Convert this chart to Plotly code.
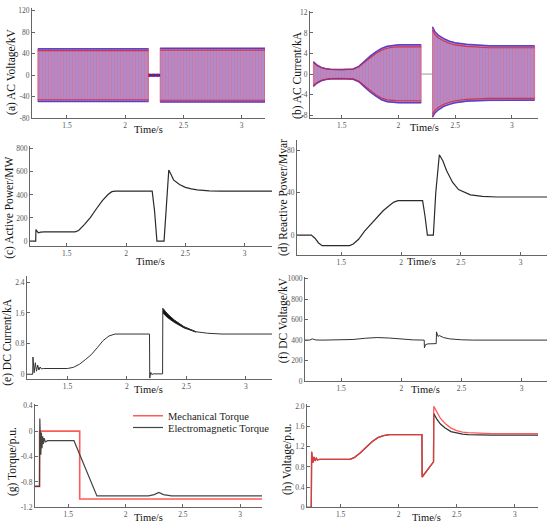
import plotly.graph_objects as go

W, H = 550, 530

# ---- values ----
# (a) AC voltage envelope, kV
a_t_pre = [1.25, 2.2]
a_hi_pre = [49, 49]
a_lo_pre = [-49, -49]
a_t_flt = [2.2, 2.3]
a_flt = [0, 0]
a_t_post = [2.3, 3.2]
a_hi_post = [50, 50]
a_lo_post = [-50, -50]

# (b) AC current envelope, kA
b_t_pre = [1.25, 1.28, 1.32, 1.36, 1.4, 1.5, 1.6, 1.65, 1.7, 1.75, 1.8, 1.85, 1.9, 1.95, 2.0, 2.2]
b_hi_pre = [2.4, 1.8, 1.3, 1.05, 0.95, 0.9, 1.0, 1.5, 2.5, 3.5, 4.3, 5.0, 5.4, 5.6, 5.7, 5.7]
b_lo_pre = [-2.4, -1.8, -1.3, -1.05, -0.95, -0.9, -1.0, -1.5, -2.5, -3.5, -4.3, -5.0, -5.4, -5.5, -5.6, -5.6]
b_t_flt = [2.2, 2.3]
b_flt = [0, 0]
b_t_post = [2.3, 2.32, 2.35, 2.4, 2.45, 2.5, 2.6, 2.7, 2.8, 3.0, 3.2]
b_hi_post = [9.2, 8.3, 7.6, 6.9, 6.4, 6.1, 5.8, 5.6, 5.5, 5.5, 5.5]
b_lo_post = [-8.4, -7.6, -7.0, -6.3, -5.9, -5.6, -5.3, -5.2, -5.1, -5.1, -5.1]

# (c) active power, MW
c_t = [1.19, 1.238, 1.24, 1.25, 1.26, 1.28, 1.31, 1.57, 1.6, 1.65, 1.7, 1.75, 1.8, 1.85, 1.88, 1.91,
       2.22, 2.24, 2.26, 2.32, 2.34, 2.36, 2.38, 2.4, 2.45, 2.5, 2.55, 2.6, 2.7, 2.8, 3.23]
c_p = [0, 0, 100, 88, 72, 78, 80, 80, 92, 145, 205, 280, 350, 405, 428, 432,
       432, 260, 0, 0, 330, 615, 575, 530, 490, 465, 452, 443, 435, 432, 432]

# (d) reactive power, Mvar
d_t = [1.13, 1.25, 1.28, 1.31, 1.34, 1.57, 1.6, 1.645, 1.695, 1.75, 1.8, 1.85, 1.9, 1.94, 1.975,
       2.18, 2.2, 2.22, 2.27, 2.29, 2.32, 2.35, 2.38, 2.43, 2.48, 2.58, 2.68, 2.8, 3.22]
d_q = [0, 0, -3, -7.5, -10, -10, -8.5, -4, 3.7, 10.5, 17, 23, 27.7, 31.2, 32.5,
       32.5, 18, 0, 0, 40, 76, 70, 61, 50, 43, 38, 36.5, 36, 36]

# (e) DC current, kA
e_t = [1.16, 1.208, 1.21, 1.22, 1.23, 1.24, 1.25, 1.26, 1.27, 1.28, 1.3, 1.5, 1.55, 1.6, 1.65, 1.7,
       1.75, 1.8, 1.85, 1.9, 2.19, 2.192, 2.2, 2.21, 2.22, 2.3, 2.302, 2.34, 2.4, 2.48, 2.58, 2.68, 2.8, 3.22]
e_i = [0, 0, 0.45, 0.04, 0.3, 0.08, 0.24, 0.11, 0.19, 0.14, 0.15, 0.15, 0.18, 0.26, 0.38, 0.51,
       0.69, 0.88, 1.0, 1.05, 1.05, -0.1, 0.05, -0.01, 0.01, 0.01, 1.72, 1.58, 1.41, 1.24, 1.11, 1.07, 1.05, 1.05]
e_rip_t = [2.302, 2.34, 2.4, 2.48, 2.58]
e_rip_hi = [1.72, 1.58, 1.41, 1.24, 1.11]
e_rip_lo = [1.6, 1.48, 1.35, 1.21, 1.1]

# (f) DC voltage, kV
f_t = [1.2, 1.24, 1.26, 1.29, 1.35, 1.5, 1.6, 1.7, 1.8, 1.9, 2.0, 2.1, 2.19, 2.192, 2.2, 2.22,
       2.29, 2.292, 2.305, 2.315, 2.35, 2.4, 2.5, 2.6, 3.21]
f_v = [400, 400, 412, 401, 400, 400, 406, 418, 425, 420, 410, 402, 400, 325, 355, 363,
       366, 480, 435, 445, 425, 412, 403, 400, 400]

# (g) torque, p.u.
g_t_mech = [1.21, 1.25, 1.2501, 1.6, 1.6001, 3.19]
g_mech = [-0.87, -0.87, 0, 0, -1.07, -1.07]
g_t_em = [1.21, 1.249, 1.252, 1.256, 1.261, 1.266, 1.271, 1.277, 1.283, 1.29, 1.3, 1.32, 1.55, 1.75,
          2.2, 2.25, 2.29, 2.33, 2.4, 3.19]
g_em = [-0.87, -0.87, 0.2, -0.1, -0.37, -0.02, -0.27, -0.08, -0.2, -0.11, -0.17, -0.15, -0.15, -1.02,
        -1.02, -1.0, -0.965, -1.0, -1.02, -1.02]

# (h) voltage, p.u.
h_t = [1.21, 1.247, 1.25, 1.26, 1.27, 1.28, 1.29, 1.3, 1.32, 1.58, 1.62, 1.67, 1.72, 1.77, 1.82, 1.87,
       1.92, 2.2, 2.202, 2.3, 2.302, 2.33, 2.36, 2.4, 2.45, 2.5, 2.55, 2.6, 2.7, 2.8, 3.2]
h_red = [0, 0, 1.1, 0.88, 1.0, 0.92, 0.97, 0.94, 0.95, 0.95, 0.99, 1.08, 1.19, 1.3, 1.38, 1.42,
         1.44, 1.44, 0.6, 0.9, 2.0, 1.87, 1.76, 1.66, 1.57, 1.52, 1.49, 1.48, 1.465, 1.46, 1.46]
h_blk = [0, 0, 1.1, 0.88, 1.0, 0.92, 0.97, 0.94, 0.95, 0.95, 0.99, 1.08, 1.19, 1.3, 1.38, 1.42,
         1.44, 1.44, 0.6, 0.9, 1.86, 1.74, 1.65, 1.57, 1.5, 1.47, 1.45, 1.44, 1.435, 1.43, 1.43]

# ---- panel geometry (pixel boxes in the 550x530 page) ----
panels = {
    'a': dict(box=(32, 265, 5, 117), xr=[1.2, 3.2], yr=[-80, 125],
              yt=[-80, -40, 0, 40, 80, 120], title='(a) AC Voltage/kV', tpos=(12, 70), xpos=(148, 128)),
    'b': dict(box=(310, 538, 8, 117), xr=[1.22, 3.23], yr=[-8.6, 12.3],
              yt=[-8, -4, 0, 4, 8, 12], title='(b) AC Current/kA', tpos=(298, 73), xpos=(424, 126)),
    'c': dict(box=(30, 272, 145, 247), xr=[1.19, 3.23], yr=[-45, 825],
              yt=[0, 200, 400, 600, 800], title='(c) Active Power/MW', tpos=(10, 208), xpos=(150, 262)),
    'd': dict(box=(297, 547, 139, 256), xr=[1.13, 3.22], yr=[-19, 90],
              yt=[0, 40, 80], title='(d) Reactive Power/Mvar', tpos=(283, 198), xpos=(422, 262)),
    'e': dict(box=(27, 272, 277, 382), xr=[1.16, 3.22], yr=[-0.13, 2.57],
              yt=[0, 0.8, 1.6, 2.4], title='(e) DC Current/kA', tpos=(8, 344), xpos=(148, 392)),
    'f': dict(box=(305, 547, 278, 384), xr=[1.2, 3.21], yr=[0, 1016],
              yt=[0, 200, 400, 600, 800, 1000], title='(f) DC Voltage/kV', tpos=(283, 322), xpos=(425, 392)),
    'g': dict(box=(35, 262, 407, 512), xr=[1.21, 3.19], yr=[-1.2, 0.43],
              yt=[-1.2, -0.8, -0.4, 0, 0.4], title='(g) Torque/p.u.', tpos=(13, 466), xpos=(148, 522)),
    'h': dict(box=(307, 538, 407, 512), xr=[1.21, 3.2], yr=[0, 2.05],
              yt=[0, 0.4, 0.8, 1.2, 1.6, 2.0], title='(h) Voltage/p.u.', tpos=(287, 463), xpos=(426, 522)),
}
h_ticktext = ['0', '0.4', '0.8', '1.2', '1.6', '2.0']

FONT = 'Liberation Serif'
fig = go.Figure()
ax_ids = {}
layout = {}
annotations = []

for i, (key, p) in enumerate(panels.items(), start=1):
    sfx = '' if i == 1 else str(i)
    ax_ids[key] = ('x' + sfx, 'y' + sfx)
    x0, x1, y0, y1 = p['box']
    common = dict(showline=True, linecolor='#666', linewidth=1, ticks='inside', ticklen=3,
                  tickcolor='#666', tickfont=dict(family=FONT, size=7.5, color='#555'),
                  showgrid=False, zeroline=False, fixedrange=True)
    layout['xaxis' + sfx] = dict(common, domain=[x0 / W, x1 / W], range=p['xr'],
                                 anchor='y' + sfx, tickvals=[1.5, 2, 2.5, 3],
                                 ticktext=['1.5', '2', '2.5', '3'])
    yt = p['yt']
    ytext = h_ticktext if key == 'h' else [('%g' % v) for v in yt]
    layout['yaxis' + sfx] = dict(common, domain=[1 - y1 / H, 1 - y0 / H], range=p['yr'],
                                 anchor='x' + sfx, tickvals=yt, ticktext=ytext)
    tx, ty = p['tpos']
    annotations.append(dict(text=p['title'], x=tx / W, y=1 - ty / H, xref='paper', yref='paper',
                            textangle=-90, showarrow=False, xanchor='center', yanchor='middle',
                            font=dict(family=FONT, size=11.5, color='#111')))
    xx, xy = p['xpos']
    annotations.append(dict(text='Time/s', x=xx / W, y=1 - xy / H, xref='paper', yref='paper',
                            showarrow=False, xanchor='center', yanchor='middle',
                            font=dict(family=FONT, size=10.5, color='#111')))


def line(key, x, y, color, width=1.0, name=None, legend=None, **kw):
    xa, ya = ax_ids[key]
    extra = dict(showlegend=False) if legend is None else dict(showlegend=True, legend=legend)
    fig.add_trace(go.Scatter(x=x, y=y, mode='lines', line=dict(color=color, width=width),
                             name=name, xaxis=xa, yaxis=ya, hoverinfo='skip', **extra, **kw))


def band(key, t, hi, lo):
    xa, ya = ax_ids[key]
    fig.add_trace(go.Scatter(x=t, y=hi, mode='lines', line=dict(width=0), showlegend=False,
                             xaxis=xa, yaxis=ya, hoverinfo='skip'))
    fig.add_trace(go.Scatter(x=t, y=lo, mode='lines', line=dict(width=0), fill='tonexty',
                             fillcolor='rgb(175,140,200)',
                             fillpattern=dict(shape='|', bgcolor='rgb(172,140,205)',
                                              fgcolor='rgb(228,105,135)', size=3, solidity=0.45),
                             showlegend=False, xaxis=xa, yaxis=ya, hoverinfo='skip'))
    # outline of the envelope
    ox = list(t) + list(t)[::-1] + [t[0]]
    oy = list(hi) + list(lo)[::-1] + [hi[0]]
    line(key, ox, oy, 'rgba(230,60,80,0.8)', 0.8)
    # coloured edges: blue outside, red just inside
    line(key, t, hi, 'rgba(50,50,220,0.8)', 1.5)
    line(key, t, lo, 'rgba(50,50,220,0.8)', 1.5)
    line(key, t, [v * 0.93 for v in hi], 'rgba(215,30,50,0.8)', 1.1)
    line(key, t, [v * 0.93 for v in lo], 'rgba(215,30,50,0.8)', 1.1)


# (a)
band('a', a_t_pre, a_hi_pre, a_lo_pre)
band('a', a_t_post, a_hi_post, a_lo_post)
line('a', a_t_flt, a_flt, 'rgb(40,40,200)', 3)
xa, ya = ax_ids['a']
fig.add_trace(go.Scatter(x=a_t_flt, y=a_flt, mode='lines',
                         line=dict(color='rgb(190,20,40)', width=3, dash='2px,2px'),
                         showlegend=False, xaxis=xa, yaxis=ya, hoverinfo='skip'))

# (b)
band('b', b_t_pre, b_hi_pre, b_lo_pre)
band('b', b_t_post, b_hi_post, b_lo_post)
line('b', b_t_flt, b_flt, '#999', 1)

# (c)-(f)
line('c', c_t, c_p, '#2a2a2a', 1.2)
line('d', d_t, d_q, '#2a2a2a', 1.2)
xa, ya = ax_ids['e']
fig.add_trace(go.Scatter(x=e_rip_t + e_rip_t[::-1], y=e_rip_hi + e_rip_lo[::-1], mode='lines',
                         fill='toself', fillcolor='#111', line=dict(color='#111', width=0.8),
                         showlegend=False, xaxis=xa, yaxis=ya, hoverinfo='skip'))
line('e', e_t, e_i, '#333', 1.0)
line('f', f_t, f_v, '#333', 1.0)

# (g)
line('g', g_t_mech, g_mech, 'rgb(255,90,90)', 1.6, name='Mechanical Torque', legend='legend')
line('g', g_t_em, g_em, '#444', 1.2, name='Electromagnetic Torque', legend='legend2')

# (h)
line('h', h_t, h_blk, '#333', 1.3)
line('h', h_t, h_red, 'rgba(255,60,60,0.85)', 1.3)

leg_style = dict(xanchor='left', yanchor='middle', bgcolor='rgba(0,0,0,0)',
                 font=dict(family=FONT, size=10.5, color='#222'), itemwidth=30)
fig.update_layout(
    **layout,
    width=W, height=H,
    margin=dict(l=0, r=0, t=0, b=0),
    paper_bgcolor='white', plot_bgcolor='white',
    font=dict(family=FONT, color='#111'),
    annotations=annotations,
    legend=dict(leg_style, x=128 / W, y=1 - 419 / H),
    legend2=dict(leg_style, x=128 / W, y=1 - 431 / H),
)

fig.write_html('out.html', config={'displayModeBar': False},
               post_script="document.body.style.margin='0';")
